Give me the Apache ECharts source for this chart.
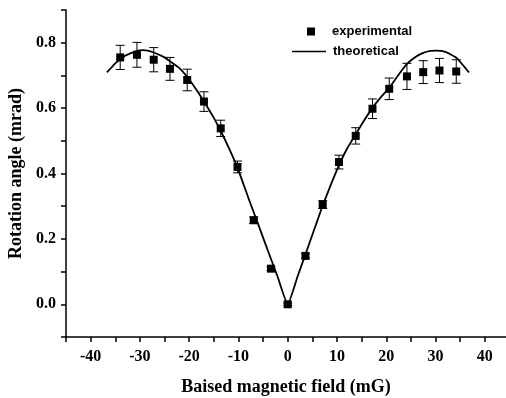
<!DOCTYPE html>
<html>
<head>
<meta charset="utf-8">
<script src="https://cdn.jsdelivr.net/npm/echarts@6/dist/echarts.min.js"></script>
<style>
  html, body { margin: 0; padding: 0; background: #fff; }
  #chart { width: 506px; height: 398px; }
</style>
</head>
<body>
<div id="chart"></div>
<script>
// experimental points (mG, mrad) with error half-widths
const expField = [-34.0, -30.6, -27.2, -23.9, -20.4, -17.0, -13.6, -10.2, -6.9, -3.4, 0, 3.6, 7.1, 10.4, 13.8, 17.2, 20.6, 24.2, 27.5, 30.8, 34.2];
const expAngle = [0.755, 0.763, 0.748, 0.720, 0.686, 0.620, 0.538, 0.420, 0.257, 0.109, 0.0, 0.148, 0.305, 0.435, 0.515, 0.598, 0.659, 0.697, 0.710, 0.715, 0.712];
const expError = [0.037, 0.038, 0.037, 0.035, 0.033, 0.030, 0.025, 0.018, 0.010, 0.006, 0.004, 0.007, 0.012, 0.021, 0.025, 0.030, 0.033, 0.040, 0.035, 0.037, 0.036];

// theoretical curve
const theoField = [-36.7, -35, -33, -31, -29.3, -27.2, -25, -23.9, -22, -20.4, -18.7, -17, -15, -13.6, -12, -10.2, -8, -6, -4, -2, 0,
  2, 4, 6, 7.1, 9, 10.4, 12, 13.8, 15.5, 17.3, 19, 20.6, 22.5, 24.2, 26, 27.5, 29, 30.1, 32, 34.3, 36.8];
const theoAngle = [0.709, 0.737, 0.760, 0.773, 0.777, 0.770, 0.755, 0.743, 0.722, 0.695, 0.660, 0.620, 0.570, 0.530, 0.480, 0.418, 0.326, 0.245, 0.163, 0.082, 0.0,
  0.085, 0.170, 0.255, 0.302, 0.375, 0.425, 0.475, 0.520, 0.562, 0.603, 0.635, 0.662, 0.702, 0.735, 0.757, 0.769, 0.775, 0.776, 0.772, 0.753, 0.709];

const serif = '"Liberation Serif", "Times New Roman", serif';
const sans = '"Liberation Sans", Arial, sans-serif';

const expData = expField.map((x, i) => [x, expAngle[i]]);
const errData = expField.map((x, i) => [x, expAngle[i] - expError[i], expAngle[i] + expError[i]]);
const theoData = theoField.map((x, i) => [x, theoAngle[i]]);

const chart = echarts.init(document.getElementById('chart'));

chart.setOption({
  backgroundColor: '#fff',
  animation: false,
  // the original axis runs off the right edge of the picture
  grid: { left: 66, right: 0, top: 10, bottom: 61, containLabel: false, outerBoundsMode: 'none' },
  legend: [
    {
      left: 302, top: 20, orient: 'vertical',
      icon: 'rect', itemWidth: 8, itemHeight: 8,
      data: ['experimental'],
      textStyle: { fontFamily: sans, fontWeight: 'bold', fontSize: 13, color: '#000', padding: [0, 0, 0, 12] }
    },
    {
      left: 287, top: 40, orient: 'vertical',
      icon: 'rect', itemWidth: 34, itemHeight: 1.6,
      data: ['theoretical'],
      textStyle: { fontFamily: sans, fontWeight: 'bold', fontSize: 13, color: '#000', padding: [0, 0, 0, 2] }
    }
  ],
  xAxis: {
    type: 'value',
    min: -45, max: 44.3, interval: 5,
    name: 'Baised magnetic field (mG)',
    nameLocation: 'middle', nameGap: 41,
    nameTextStyle: { fontFamily: serif, fontWeight: 'bold', fontSize: 18, color: '#000' },
    axisLine: { onZero: false, lineStyle: { color: '#000', width: 1.5 } },
    axisTick: { length: 5, lineStyle: { color: '#000', width: 1.5 } },
    axisLabel: {
      margin: 12, showMaxLabel: false,
      fontFamily: serif, fontWeight: 'bold', fontSize: 16, color: '#000',
      formatter: v => (Math.abs(v - Math.round(v)) < 1e-6 && Math.round(v) % 10 === 0 ? String(Math.round(v)) : '')
    },
    splitLine: { show: false }
  },
  yAxis: {
    type: 'value',
    min: -0.1, max: 0.9, interval: 0.1,
    name: 'Rotation angle (mrad)',
    nameLocation: 'middle', nameGap: 38,
    nameTextStyle: { fontFamily: serif, fontWeight: 'bold', fontSize: 18, color: '#000' },
    axisLine: { show: true, onZero: false, lineStyle: { color: '#000', width: 1.5 } },
    axisTick: { show: true, length: 5, lineStyle: { color: '#000', width: 1.5 } },
    axisLabel: {
      margin: 10,
      fontFamily: serif, fontWeight: 'bold', fontSize: 16, color: '#000',
      formatter: v => {
        const k = Math.round(v * 10);
        return (k % 2 === 0 && k >= 0 && k <= 8) ? (k / 10).toFixed(1) : '';
      }
    },
    splitLine: { show: false }
  },
  series: [
    {
      name: 'theoretical',
      type: 'line',
      data: theoData,
      symbol: 'none',
      smooth: 0.15,
      lineStyle: { color: '#000', width: 1.8 },
      itemStyle: { color: '#000' },
      z: 2
    },
    {
      name: 'error',
      type: 'custom',
      data: errData,
      renderItem: (params, api) => {
        const x = api.value(0);
        const lo = api.coord([x, api.value(1)]);
        const hi = api.coord([x, api.value(2)]);
        const cap = 4.5;
        const style = { stroke: '#000', lineWidth: 1 };
        return {
          type: 'group',
          children: [
            { type: 'line', shape: { x1: lo[0], y1: lo[1], x2: hi[0], y2: hi[1] }, style },
            { type: 'line', shape: { x1: lo[0] - cap, y1: lo[1], x2: lo[0] + cap, y2: lo[1] }, style },
            { type: 'line', shape: { x1: hi[0] - cap, y1: hi[1], x2: hi[0] + cap, y2: hi[1] }, style }
          ]
        };
      },
      z: 3
    },
    {
      name: 'experimental',
      type: 'scatter',
      data: expData,
      symbol: 'rect',
      symbolSize: 8,
      itemStyle: { color: '#000', opacity: 1 },
      z: 4
    }
  ]
});
</script>
</body>
</html>
